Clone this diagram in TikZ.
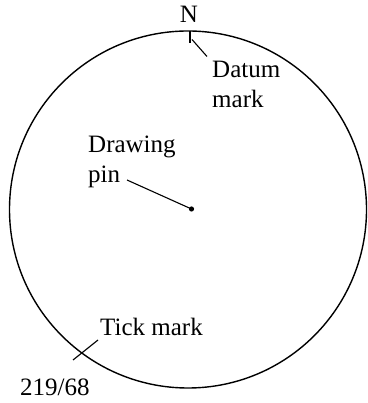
\documentclass[tikz,border=0pt]{standalone}
\usepackage{fontspec}
\setmainfont{Liberation Serif}
\usetikzlibrary{calc}

\begin{document}
\begin{tikzpicture}[x=1pt, y=1pt,
  every node/.style={font=\fontsize{25}{30}\selectfont, inner sep=0pt},
  lbl/.style={align=left, anchor=base west},
  lead/.style={line width=1.1pt}]
  \useasboundingbox (0,0) rectangle (367,403);
  \coordinate (ctr) at (188,193.5);
  \draw[line width=1.4pt] (ctr) circle (178.5pt);
  \node[anchor=base] (north) at (189,380) {N};
  \coordinate (datumtop) at (190,372);
  \coordinate (datumbot) at (190,360);
  \coordinate (datumA) at (192,363.5);
  \coordinate (datumB) at (207,346.5);
  \draw[lead] (datumtop) -- (datumbot);
  \draw[lead] (datumA) -- (datumB);
  \node[lbl] (datum) at (212,295) {Datum\\mark};
  \node[lbl] (drawing) at (88,220) {Drawing\\pin};
  \coordinate (pinA) at (127,223);
  \coordinate (pin) at (191.5,194);
  \draw[lead] (pinA) -- (pin);
  \fill (pin) circle (2.6pt);
  \coordinate (tickA) at (73,43);
  \coordinate (tickB) at (98,63);
  \draw[lead] (tickA) -- (tickB);
  \node[lbl] (tick) at (100,67) {Tick mark};
  \node[anchor=base west] (bearing) at (20,8) {219/68};
\end{tikzpicture}
\end{document}
